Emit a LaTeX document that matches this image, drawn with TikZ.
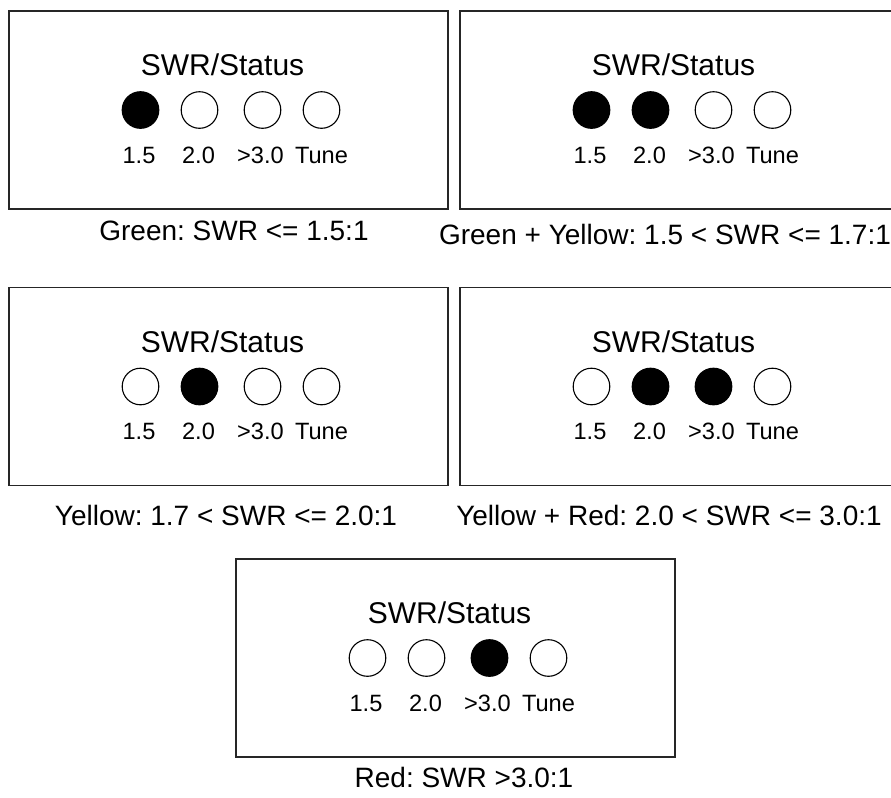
\documentclass[tikz,border=0pt]{standalone}
\usepackage{fontspec}
\setmainfont{Liberation Sans}
\usepackage{tikz}
\frenchspacing

% one SWR/Status panel: name, centre x, centre y, styles of the four lamps
\newcommand{\swrpanel}[7]{%
  \node[panelbox] (#1) at (#2,#3) {};
  \node[paneltitle] (#1-title) at (#2-6,#3-45) {SWR/Status};
  \node[#4] (#1-l1) at (#2-88,#3) {};
  \node[#5] (#1-l2) at (#2-29,#3) {};
  \node[#6] (#1-l3) at (#2+34,#3) {};
  \node[#7] (#1-l4) at (#2+93,#3) {};
  \node[lamplabel] (#1-t1) at (#2-89.5,#3+45) {1.5};
  \node[lamplabel] (#1-t2) at (#2-30,#3+45) {2.0};
  \node[lamplabel] (#1-t3) at (#2+32,#3+45) {>3.0};
  \node[lamplabel] (#1-t4) at (#2+93,#3+45) {Tune};
}

\begin{document}
\begin{tikzpicture}[x=0.5pt,y=-0.5pt,
    panelbox/.style={draw=black!85,line width=0.9pt,minimum width=219.5pt,minimum height=99pt,inner sep=0pt},
    paneltitle/.style={font=\fontsize{15}{18}\selectfont,inner sep=0pt},
    lampoff/.style={circle,draw,line width=0.55pt,minimum size=18.3pt,inner sep=0pt},
    lampon/.style={lampoff,fill=black},
    lamplabel/.style={font=\fontsize{11.8}{14}\selectfont,inner sep=0pt},
    caption/.style={font=\fontsize{14}{17}\selectfont,inner sep=0pt}]
  \clip (0,0) rectangle (891,798);
  \fill[white] (0,0) rectangle (891,798);

  \swrpanel{green}{228.5}{110}{lampon}{lampoff}{lampoff}{lampoff}
  \swrpanel{greenyellow}{679.5}{110}{lampon}{lampon}{lampoff}{lampoff}
  \swrpanel{yellow}{228.5}{386.5}{lampoff}{lampon}{lampoff}{lampoff}
  \swrpanel{yellowred}{679.5}{386.5}{lampoff}{lampon}{lampon}{lampoff}
  \swrpanel{red}{455.5}{658}{lampoff}{lampoff}{lampon}{lampoff}

  \node[caption] (green-cap) at (234,231) {Green: SWR <= 1.5:1};
  \node[caption] (greenyellow-cap) at (665,234) {Green + Yellow: 1.5 < SWR <= 1.7:1};
  \node[caption] (yellow-cap) at (226,515) {Yellow: 1.7 < SWR <= 2.0:1};
  \node[caption] (yellowred-cap) at (669,515) {Yellow + Red: 2.0 < SWR <= 3.0:1};
  \node[caption] (red-cap) at (464,777) {Red: SWR >3.0:1};
\end{tikzpicture}
\end{document}
